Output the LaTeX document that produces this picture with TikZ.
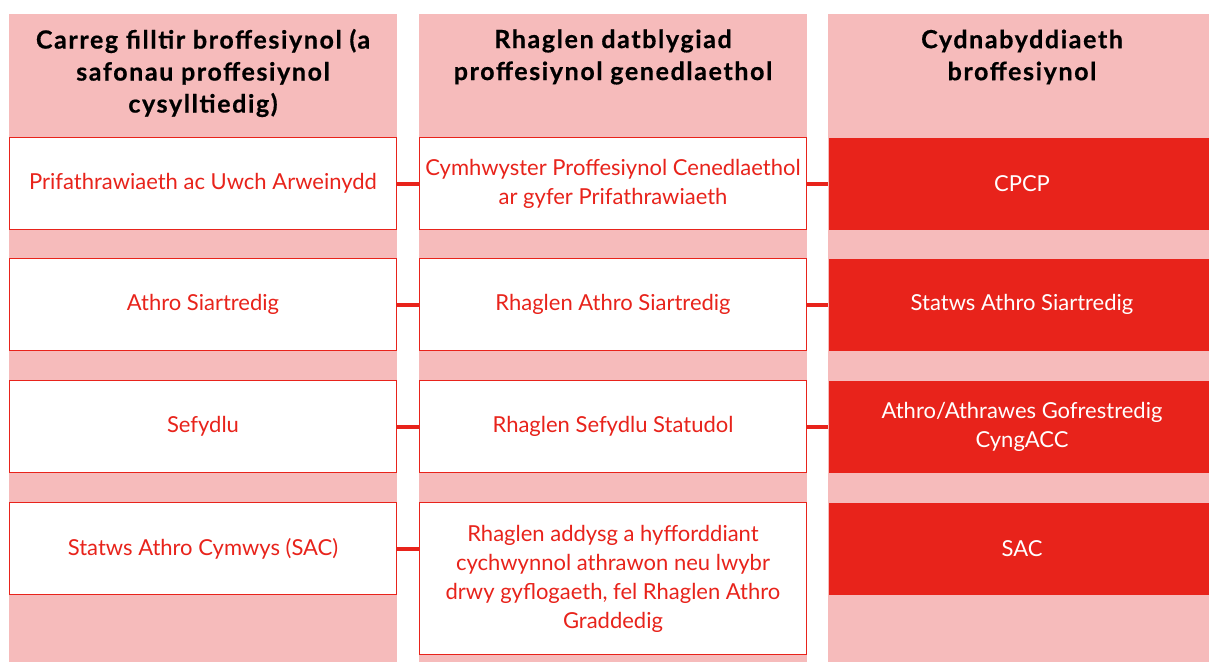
\documentclass[tikz,border=0pt]{standalone}
\usepackage{fontspec}
\setmainfont{Lato}
\newfontfamily\hdrfont[LetterSpace=6.5,FakeBold=0.6]{Lato Bold}
\definecolor{pinkbg}{HTML}{F6BBBB}
\definecolor{redc}{HTML}{E8231B}
\begin{document}
\begin{tikzpicture}[x=1pt,y=-1pt,
  colbg/.style={fill=pinkbg},
  boxbase/.style={minimum width=387pt, minimum height=92pt, inner sep=0pt, align=center,
    font=\fontsize{22}{29}\selectfont},
  wbox/.style={boxbase, draw=redc, line width=1pt, fill=white, text=redc},
  rbox/.style={boxbase, fill=redc, text=white},
  hdr/.style={align=center, text=black, font=\hdrfont\fontsize{25}{32}\selectfont, inner sep=0pt},
  link/.style={draw=redc, line width=4pt}]
\useasboundingbox (0,0) rectangle (1209,662);
\clip (0,0) rectangle (1209,662);
% column backgrounds
\fill[colbg] (9,14) rectangle (397,662);
\fill[colbg] (419,14) rectangle (807,662);
\fill[colbg] (828,14) rectangle (1216,662);
% headers
\node[hdr] (h1) at (203,73) {Carreg filltir broffesiynol (a\\safonau proffesiynol\\cysylltiedig)};
\node[hdr] (h2) at (613,57) {Rhaglen datblygiad\\proffesiynol genedlaethol};
\node[hdr] (h3) at (1022,57) {Cydnabyddiaeth\\broffesiynol};
% column 1
\node[wbox] (a1) at (203,183.5) {Prifathrawiaeth ac Uwch Arweinydd};
\node[wbox] (a2) at (203,304.5) {Athro Siartredig};
\node[wbox] (a3) at (203,426.5) {Sefydlu};
\node[wbox] (a4) at (203,548.5) {Statws Athro Cymwys (SAC)};
% column 2
\node[wbox] (b1) at (613,183.5) {Cymhwyster Proffesiynol Cenedlaethol\\ar gyfer Prifathrawiaeth};
\node[wbox] (b2) at (613,304.5) {Rhaglen Athro Siartredig};
\node[wbox] (b3) at (613,426.5) {Rhaglen Sefydlu Statudol};
\node[wbox, minimum height=152pt] (b4) at (613,578.5) {Rhaglen addysg a hyfforddiant\\cychwynnol athrawon neu lwybr\\drwy gyflogaeth, fel Rhaglen Athro\\Graddedig};
% column 3
\node[rbox] (c1) at (1022,183.5) {CPCP};
\node[rbox] (c2) at (1022,304.5) {Statws Athro Siartredig};
\node[rbox] (c3) at (1022,426.5) {Athro/Athrawes Gofrestredig\\CyngACC};
\node[rbox] (c4) at (1022,548.5) {SAC};
% connectors
\draw[link] (a1.east) -- (b1.west);
\draw[link] (a2.east) -- (b2.west);
\draw[link] (a3.east) -- (b3.west);
\draw[link] (a4.east) -- (a4.east -| b4.west);
\draw[link] (b1.east) -- (c1.west);
\draw[link] (b2.east) -- (c2.west);
\draw[link] (b3.east) -- (c3.west);
\end{tikzpicture}
\end{document}
